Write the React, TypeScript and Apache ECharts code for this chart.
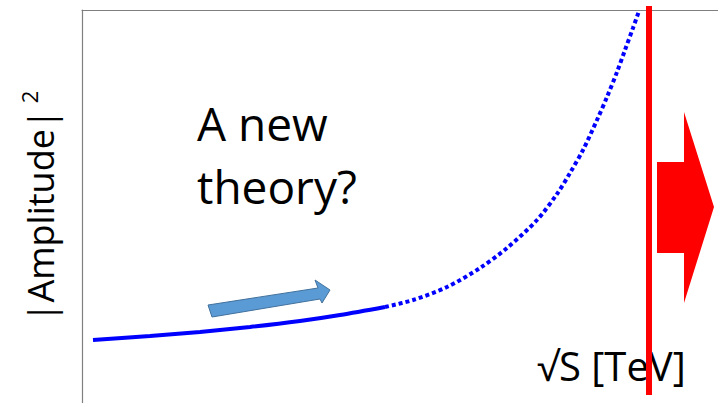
import React, { useEffect, useRef } from "react";
import * as echarts from "echarts";

// data units: x = pixel offset from axis, y = height above bottom
const solidCurve: [number, number][] = [
  [11, 63], [68, 67], [118, 71], [168, 76], [218, 82], [258, 88], [303, 96],
];
const dottedCurve: [number, number][] = [
  [303, 96], [331, 103], [365, 116], [398, 135], [425, 155], [455, 183],
  [475, 209], [488, 230], [501, 253], [515, 283], [525, 306], [535, 331],
  [543, 353], [551, 375], [557, 392],
];
const thresholdLine: [number, number][] = [[567, 8], [567, 397]];

const yTitle = "|Amplitude|";
const xTitle = "√S [TeV]";
const noteLines = ["A new", "theory?"];

export default function App() {
  const ref = useRef<HTMLDivElement>(null);
  useEffect(() => {
    if (!ref.current) return;
    const chart = echarts.init(ref.current, undefined, { renderer: "svg" });
    const font = "'Open Sans', sans-serif";
    chart.setOption({
      animation: false,
      backgroundColor: "#ffffff",
      grid: { left: 82, top: 10, right: 0, bottom: 0, containLabel: false },
      xAxis: {
        type: "value",
        position: "top",
        min: 0,
        max: 636,
        axisLine: { show: true, onZero: false, lineStyle: { color: "#808080", width: 1.2 } },
        axisTick: { show: false },
        axisLabel: { show: false },
        splitLine: { show: false },
      },
      yAxis: {
        type: "value",
        min: 0,
        max: 393,
        axisLine: { show: true, onZero: false, lineStyle: { color: "#808080", width: 1.2 } },
        axisTick: { show: false },
        axisLabel: { show: false },
        splitLine: { show: false },
        name: `{a|${yTitle}}{s|2}`,
        nameLocation: "middle",
        nameRotate: 90,
        nameGap: 20,
        nameTextStyle: {
          rich: {
            a: { fontFamily: font, fontSize: 36, color: "#000" },
            s: { fontFamily: font, fontSize: 22, color: "#000", verticalAlign: "top", padding: [0, 0, 22, 6] },
          },
        },
      },
      series: [
        {
          type: "line",
          data: solidCurve,
          smooth: 0.3,
          showSymbol: false,
          lineStyle: { color: "#0000ff", width: 4 },
          z: 3,
        },
        {
          type: "line",
          data: dottedCurve,
          smooth: 0.3,
          showSymbol: false,
          lineStyle: { color: "#0000ff", width: 4, type: [4, 3], cap: "butt" },
          z: 3,
        },
        {
          type: "line",
          data: thresholdLine,
          clip: false,
          showSymbol: false,
          lineStyle: { color: "#ff0000", width: 6 },
          z: 4,
        },
      ],
      graphic: [
        {
          type: "text",
          left: 197,
          top: 91,
          style: {
            text: noteLines.join("\n"),
            font: `46px ${font}`,
            lineHeight: 63,
            fill: "#000",
          },
        },
        {
          type: "text",
          left: 537,
          top: 345,
          style: { text: xTitle, font: `40px ${font}`, fill: "#000" },
        },
        {
          type: "polygon",
          shape: {
            points: [[208, 305], [318, 288], [315, 280], [330, 290], [322, 303], [320, 299], [212, 317]],
          },
          style: { fill: "#5B9BD5", stroke: "#41719C", lineWidth: 1 },
        },
        {
          type: "polygon",
          shape: {
            points: [[657, 162], [684, 162], [684, 112], [714, 207], [684, 303], [684, 253], [657, 253]],
          },
          style: { fill: "#ff0000" },
        },
      ],
    });
    return () => chart.dispose();
  }, []);
  return (
    <div
      ref={ref}
      style={{ position: "fixed", left: 0, top: 0, width: 718, height: 403 }}
    />
  );
}
